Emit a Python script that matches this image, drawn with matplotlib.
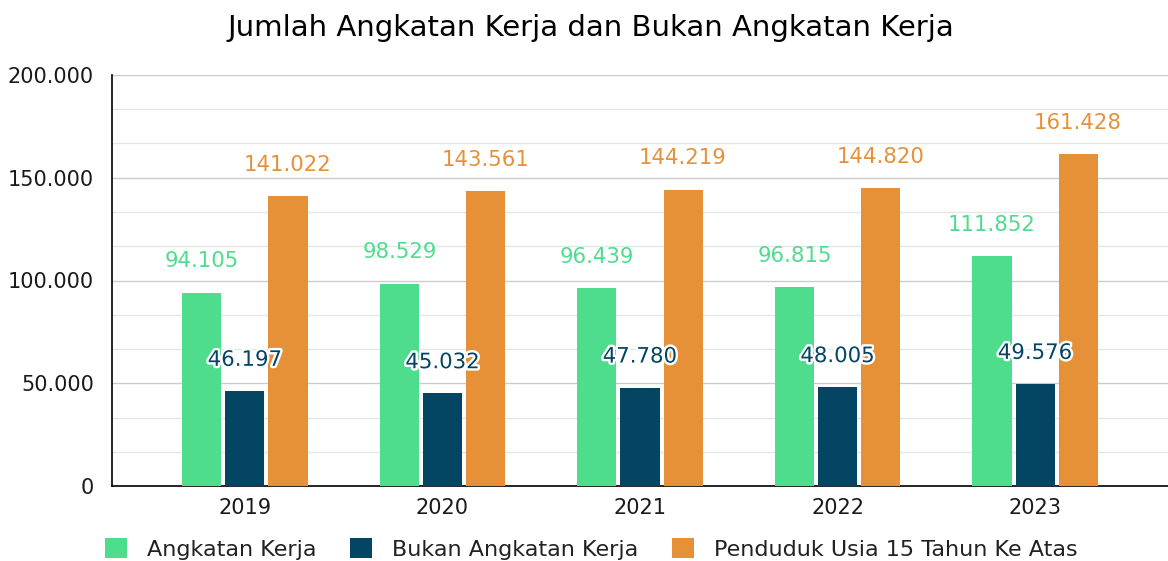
import matplotlib.pyplot as plt
import matplotlib.patheffects as pe
import numpy as np
from matplotlib.ticker import MultipleLocator, FuncFormatter

years = ['2019', '2020', '2021', '2022', '2023']
angkatan = [94105, 98529, 96439, 96815, 111852]
bukan = [46197, 45032, 47780, 48005, 49576]
penduduk = [141022, 143561, 144219, 144820, 161428]
series_names = ['Angkatan Kerja', 'Bukan Angkatan Kerja', 'Penduduk Usia 15 Tahun Ke Atas']
colors = ['#4ddd8c', '#034563', '#e69138']
label_colors = ['#4ddd8c', '#034563', '#e69138']

plt.rcParams['font.family'] = ['DejaVu Sans']

def fmt(v):
    return '{:,}'.format(int(v)).replace(',', '.')

fig = plt.figure(figsize=(11.68, 5.61), dpi=100)
ax = fig.add_axes([112/1168, 1-486/561, 1-112/1168, (486-75)/561])

x = np.arange(len(years))
w = 0.198
off = 0.218
for i, (vals, name) in enumerate(zip([angkatan, bukan, penduduk], series_names)):
    xs = x + (i-1)*off
    ax.bar(xs, vals, width=w, color=colors[i], label=name, zorder=3)
    for xx, v in zip(xs, vals):
        t = ax.annotate(fmt(v), (xx, v), xytext=(0, 22.5), textcoords='offset points',
                        ha='center', va='center', fontsize=15.3, color=label_colors[i], zorder=5)
        if i == 1:
            t.set_path_effects([pe.withStroke(linewidth=3.5, foreground='white')])

ax.set_xlim(-0.673, 4.673)
ax.set_ylim(0, 200000)
ax.yaxis.set_major_locator(MultipleLocator(50000))
ax.yaxis.set_minor_locator(MultipleLocator(50000/3))
ax.yaxis.set_major_formatter(FuncFormatter(lambda v, p: fmt(v)))
ax.grid(axis='y', which='major', color='#cccccc', linewidth=1, zorder=0)
ax.grid(axis='y', which='minor', color='#e6e6e6', linewidth=1, zorder=0)
ax.set_xticks(x)
ax.set_xticklabels(years)
ax.tick_params(axis='both', which='both', length=0, labelsize=15, colors='#1a1a1a')
ax.tick_params(axis='x', pad=9)
ax.tick_params(axis='y', pad=13)
for s in ['top', 'right']:
    ax.spines[s].set_visible(False)
for s in ['left', 'bottom']:
    ax.spines[s].set_color('black')
    ax.spines[s].set_linewidth(1.2)

fig.text(591/1168, 1-28/561, 'Jumlah Angkatan Kerja dan Bukan Angkatan Kerja',
         ha='center', va='center', fontsize=21, color='black')

fig.legend(loc='center', bbox_to_anchor=(591/1168, 1-549/561), ncol=3, frameon=False,
           fontsize=16, handlelength=1.0, handleheight=1.0, columnspacing=1.5,
           handletextpad=0.9, labelcolor='#222222')

fig.savefig('out.png', dpi=100)
